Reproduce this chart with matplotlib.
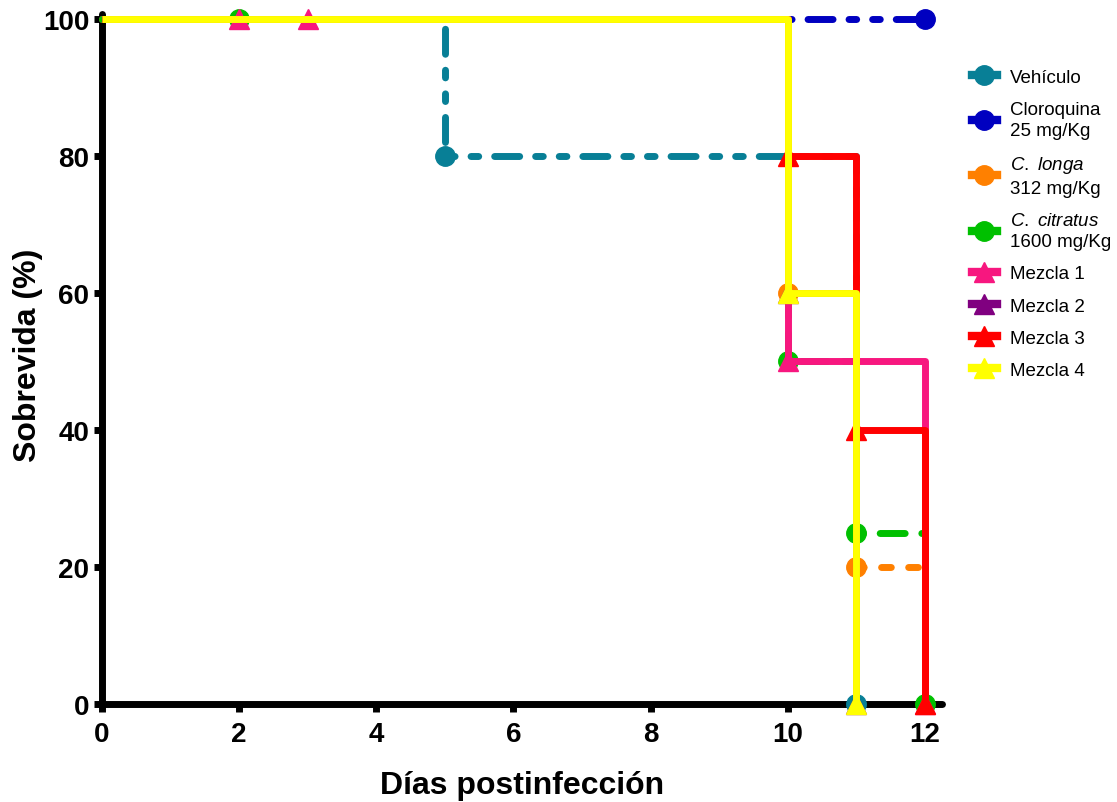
import matplotlib
matplotlib.use('Agg')
import matplotlib.pyplot as plt
from matplotlib.lines import Line2D

plt.rcParams['font.family'] = ['Liberation Sans', 'DejaVu Sans']
plt.rcParams['mathtext.fontset'] = 'custom'
plt.rcParams['mathtext.rm'] = 'Liberation Sans'
plt.rcParams['mathtext.it'] = 'Liberation Sans:italic'

# Kaplan-Meier steps (days, % survival) and plotted symbols per group
groups = ['Vehículo', 'Cloroquina', 'C. longa', 'C. citratus',
          'Mezcla 1', 'Mezcla 2', 'Mezcla 3', 'Mezcla 4']
labels = ['Vehículo', 'Cloroquina\n25 mg/Kg',
          r'$\it{C.}$ $\it{longa}$' + '\n312 mg/Kg',
          r'$\it{C.}$ $\it{citratus}$' + '\n1600 mg/Kg',
          'Mezcla 1', 'Mezcla 2', 'Mezcla 3', 'Mezcla 4']

step_days = [
    [0, 5, 11],
    [0, 12],
    [0, 10, 11, 12],
    [0, 10, 11, 12],
    [0, 10, 12],
    [0, 10, 11],
    [0, 10, 11, 12],
    [0, 10, 11],
]
step_surv = [
    [100, 80, 0],
    [100, 100],
    [100, 60, 20, 20],
    [100, 50, 25, 0],
    [100, 50, 0],
    [100, 60, 0],
    [100, 80, 40, 0],
    [100, 60, 0],
]
mark_days = [
    [5, 11],
    [12],
    [10, 11],
    [2, 10, 11, 12],
    [2, 3, 10, 12],
    [10, 11],
    [10, 11, 12],
    [10, 11],
]
mark_surv = [
    [80, 0],
    [100],
    [60, 20],
    [100, 50, 25, 0],
    [100, 100, 50, 0],
    [60, 0],
    [80, 40, 0],
    [60, 0],
]

colors = ['#087f96', '#0000c0', '#ff8000', '#00c000',
          '#f7177f', '#800080', '#ff0000', '#ffff00']
markers = ['o', 'o', 'o', 'o', '^', '^', '^', '^']
dashes = [
    (3.6, 2.3, 1.1, 2.3, 1.1, 2.3),
    (3.6, 2.3, 1.1, 2.3, 1.1, 2.3),
    (1.4, 2.5),
    (3.6, 2.4),
    None, None, None, None,
]

fig = plt.figure(figsize=(11.17, 8.03), dpi=100)
ax = fig.add_axes([0.0913, 0.122, 0.752, 0.8593])

lw = 5
for i in range(len(groups)):
    kw = dict(color=colors[i], lw=lw, where='post', clip_on=False, zorder=3 + i)
    if dashes[i] is not None:
        ax.step(step_days[i], step_surv[i], dashes=dashes[i],
                dash_capstyle='round', **kw)
    else:
        ax.step(step_days[i], step_surv[i], solid_capstyle='butt', **kw)
    ax.plot(mark_days[i], mark_surv[i], ls='none', marker=markers[i], ms=14,
            color=colors[i], mec=colors[i], clip_on=False, zorder=3 + i)

ax.set_xlim(0, 12.25)
ax.set_ylim(0, 100.7)
ax.set_xticks(range(0, 13, 2))
ax.set_yticks(range(0, 101, 20))

for side in ['top', 'right']:
    ax.spines[side].set_visible(False)
for side in ['left', 'bottom']:
    ax.spines[side].set_linewidth(5)
    ax.spines[side].set_capstyle('round')
    ax.spines[side].set_zorder(2)

ax.tick_params(axis='both', direction='out', length=6, width=5,
               labelsize=20)
ax.tick_params(axis='x', pad=6)
ax.tick_params(axis='y', pad=3)
for lab in ax.get_xticklabels() + ax.get_yticklabels():
    lab.set_fontweight('bold')

ax.set_xlabel('Días postinfección', fontsize=23, fontweight='bold', labelpad=17)
ax.set_ylabel('Sobrevida (%)', fontsize=23, fontweight='bold', labelpad=0)
ax.yaxis.label.set_y(0.507)

handles = [Line2D([], [], color=c, lw=6, marker=m, ms=14)
           for c, m in zip(colors, markers)]
leg = fig.legend(handles, labels, loc='upper left', bbox_to_anchor=(0.8704, 0.9134),
                 frameon=False, fontsize=13.5, handlelength=1.3, handletextpad=0.7,
                 labelspacing=0.8, borderpad=0, borderaxespad=0)
for t in leg.get_texts():
    t.set_linespacing(1.35)

fig.savefig('out.png', dpi=100)
